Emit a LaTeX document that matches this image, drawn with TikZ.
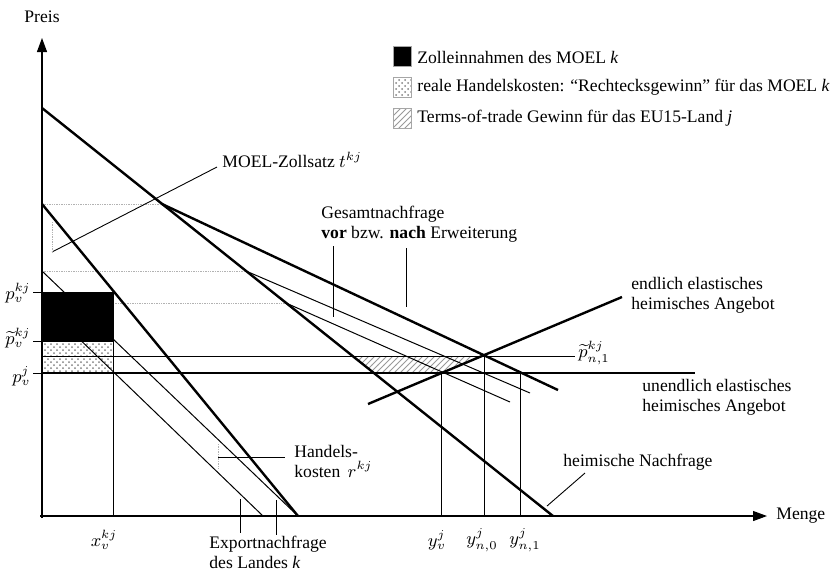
\documentclass[tikz,border=0pt]{standalone}
\usepackage{fontspec}
\setmainfont{Liberation Serif}
\usepackage{amsmath}
\usetikzlibrary{arrows.meta, patterns}

\begin{document}
\begin{tikzpicture}[x=0.5pt, y=-0.5pt,
    thickline/.style={line width=1.2pt},
    thinline/.style={line width=0.5pt},
    helpline/.style={gray!60, line width=0.45pt, dash pattern=on 0.7pt off 0.5pt},
    pointer/.style={line width=0.45pt},
    axisline/.style={line width=0.55pt, -{Triangle[length=7pt, width=5pt]}},
    lbl/.style={inner sep=0pt, font=\fontsize{8.8}{10}\selectfont, align=left},
    legbox/.style={minimum width=9pt, minimum height=10pt, inner sep=0pt, draw=gray!70, line width=0.4pt}]
  \useasboundingbox (0,0) rectangle (838,575);

  \coordinate (O) at (42,516);
  \coordinate (ytop) at (42,38);
  \coordinate (xstart) at (40,516);
  \coordinate (xend) at (767,516);
  \coordinate (hnA) at (42,108);   \coordinate (hnB) at (553,516);
  \coordinate (exA) at (42,204);   \coordinate (exB) at (298,516);
  \coordinate (rA) at (42,271);    \coordinate (rB) at (298,516);
  \coordinate (tA) at (42,303);    \coordinate (tB) at (263,516);
  \coordinate (gnA) at (162,204);  \coordinate (gnB) at (558,390);
  \coordinate (gvA) at (246,271);  \coordinate (gvB) at (530,393);
  \coordinate (gwA) at (286,303);  \coordinate (gwB) at (510,402);
  \coordinate (saA) at (368,404);  \coordinate (saB) at (622,297);
  \coordinate (pvkj) at (42,292);  \coordinate (ptkj) at (42,341);  \coordinate (pvj) at (42,373);
  \coordinate (xvT) at (113,292);  \coordinate (xvB) at (113,516);
  \coordinate (pvjE) at (695,373);
  \coordinate (pnA) at (42,356);   \coordinate (pnE) at (575,356);
  \coordinate (yvT) at (441,373);  \coordinate (yvB) at (441,516);
  \coordinate (yn0T) at (484,356); \coordinate (yn0B) at (484,516);
  \coordinate (yn1T) at (520,373); \coordinate (yn1B) at (520,516);

  \fill[pattern=crosshatch dots, pattern color=gray] (ptkj) rectangle (113,373);
  \fill[pattern=north east lines, pattern color=gray!80] (352.6,356) -- (yn0T) -- (yvT) -- (373.9,373) -- cycle;

  \draw[helpline] (exA) -- (gnA);
  \draw[helpline] (rA) -- (gvA);
  \draw[helpline] (113,303) -- (gwA);

  \draw[axisline] (42,518) -- (ytop);
  \draw[axisline] (xstart) -- (xend);

  \draw[thickline] (hnA) -- (hnB);
  \draw[thickline] (exA) -- (exB);
  \draw[thinline] (rA) -- (rB);
  \draw[thinline] (tA) -- (tB);
  \draw[thickline] (gnA) -- (gnB);
  \draw[thinline] (gvA) -- (gvB);
  \draw[thinline] (gwA) -- (gwB);
  \draw[thickline] (saA) -- (saB);
  \draw[thickline] (pvj) -- (pvjE);
  \draw[thinline] (pnA) -- (pnE);
  \draw[thinline] (xvT) -- (xvB);
  \draw[thinline] (yvT) -- (yvB);
  \draw[thinline] (yn0T) -- (yn0B);
  \draw[thinline] (yn1T) -- (yn1B);
  \fill[black] (pvkj) rectangle (113,341);
  \draw[thinline] (ptkj) -- (113,341);
  \foreach \yy in {292,341,373} \draw[thinline] (33,\yy) -- (42,\yy);

  \node[lbl] (preis) at (42,17) {Preis};
  \node[lbl, anchor=west] (menge) at (776,516) {Menge};
  \node[lbl, anchor=east] (lpvkj) at (31,293) {$p_v^{kj}$};
  \node[lbl, anchor=east] (lptkj) at (31,338) {$\widetilde{p}_v^{kj}$};
  \node[lbl, anchor=east] (lpvj) at (31,376) {$p_v^{j}$};
  \node[lbl] (lxv) at (104,540) {$x_v^{kj}$};
  \node[lbl] (lyv) at (437,540) {$y_v^{j}$};
  \node[lbl] (lyn0) at (482,540) {$y_{n,0}^{j}$};
  \node[lbl] (lyn1) at (525,540) {$y_{n,1}^{j}$};
  \node[lbl, anchor=west] (lpn) at (578,353) {$\widetilde{p}_{n,1}^{kj}$};

  \node[legbox, fill=black] (leg1) at (402,56) {};
  \node[legbox, pattern=crosshatch dots, pattern color=gray] (leg2) at (402,87) {};
  \node[legbox, pattern=north east lines, pattern color=gray!80] (leg3) at (402,118) {};
  \node[lbl, anchor=west] (tleg1) at (417,57) {Zolleinnahmen des MOEL \textit{k}};
  \node[lbl, anchor=west] (tleg2) at (417,87) {reale Handelskosten: “Rechtecksgewinn” für das MOEL \textit{k}};
  \node[lbl, anchor=west] (tleg3) at (417,118) {Terms-of-trade Gewinn für das EU15-Land \textit{j}};

  \node[lbl, anchor=west] (zoll) at (222,160) {MOEL-Zollsatz $t^{kj}$};
  \coordinate (zollE) at (217,167);
  \coordinate (zollS) at (52,252);
  \draw[pointer] (zollS) -- (zollE);
  \draw[helpline] (52,222) -- (zollS);

  \node[lbl, anchor=north west] (gesamt) at (321,206) {Gesamtnachfrage\\\textbf{vor} bzw. \textbf{nach} Erweiterung};
  \draw[pointer] (333,246) -- (333,317);
  \draw[pointer] (406,248) -- (406,307);

  \node[lbl, anchor=west] (endl) at (631,295) {endlich elastisches\\heimisches Angebot};
  \node[lbl, anchor=west] (unendl) at (642,397) {unendlich elastisches\\heimisches Angebot};

  \node[lbl, anchor=west] (heimN) at (563,462) {heimische Nachfrage};
  \coordinate (heimNS) at (585,473);
  \coordinate (heimNE) at (547,506);
  \draw[pointer] (heimNS) -- (heimNE);

  \node[lbl, anchor=west] (handel) at (294,461) {Handels-\\kosten \,$r^{kj}$};
  \coordinate (handelA) at (218,457);
  \coordinate (handelB) at (285,457);
  \draw[pointer] (handelA) -- (handelB);
  \draw[helpline] (218,444) -- (218,470);

  \node[lbl, anchor=north west] (export) at (209,536) {Exportnachfrage\\des Landes \textit{k}};
  \draw[pointer] (240,499) -- (240,533);
  \draw[pointer] (276,500) -- (276,535);
\end{tikzpicture}
\end{document}
